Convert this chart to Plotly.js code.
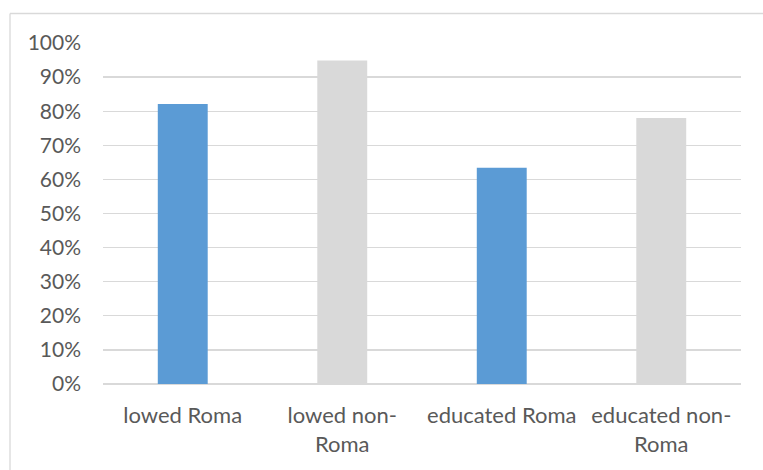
<!DOCTYPE html>
<html>
<head>
<meta charset="utf-8">
<script src="https://cdn.plot.ly/plotly-3.0.1.min.js"></script>
<style>
html,body{margin:0;padding:0;background:#fff;}
#chart{width:763px;height:470px;}
</style>
</head>
<body>
<div id="chart"></div>
<script>
const categories = ["lowed Roma", "lowed non-<br>Roma", "educated Roma", "educated non-<br>Roma"];
const values = [82.1, 94.9, 63.4, 78.0];
const tickValues = [0,10,20,30,40,50,60,70,80,90,100];
const tickLabels = ["0%","10%","20%","30%","40%","50%","60%","70%","80%","90%","100%"];
const barColors = ["#5b9bd5", "#d9d9d9", "#5b9bd5", "#d9d9d9"];

const W = 763, H = 470;
const M = {l:103, r:22, t:43, b:86};
const pw = W - M.l - M.r, ph = H - M.t - M.b;
function px(x){ return (x - M.l)/pw; }
function py(y){ return (H - M.b - y)/ph; }

const trace = {
  type: 'bar',
  x: categories,
  y: values,
  marker: {color: barColors, line: {width: 0}},
  hoverinfo: 'none'
};

const layout = {
  width: W, height: H,
  margin: M,
  paper_bgcolor: '#fff',
  plot_bgcolor: '#fff',
  showlegend: false,
  bargap: 0.687,
  font: {family: 'Lato, "Liberation Sans", sans-serif', size: 21, color: '#595959'},
  xaxis: {
    type: 'category',
    showgrid: false,
    showline: false,
    ticks: '',
    tickfont: {size: 22, color: '#595959'},
    ticklabelstandoff: 16,
    fixedrange: true
  },
  yaxis: {
    range: [0, 100],
    tickvals: tickValues,
    ticktext: tickLabels,
    showgrid: true,
    gridcolor: '#d9d9d9',
    gridwidth: 1.3,
    zeroline: true,
    zerolinecolor: '#d9d9d9',
    zerolinewidth: 1.3,
    showline: false,
    ticks: '',
    ticklabelstandoff: 21,
    tickfont: {size: 21, color: '#595959'},
    fixedrange: true
  },
  shapes: [
    {type: 'line', xref: 'paper', yref: 'paper', x0: px(10), x1: px(10), y0: py(13.5), y1: py(470), line: {color: '#d9d9d9', width: 1.3}},
    {type: 'line', xref: 'paper', yref: 'paper', x0: px(10), x1: px(763), y0: py(13.5), y1: py(13.5), line: {color: '#d9d9d9', width: 1.3}}
  ]
};

Plotly.newPlot('chart', [trace], layout, {staticPlot: true, displayModeBar: false});
</script>
</body>
</html>
